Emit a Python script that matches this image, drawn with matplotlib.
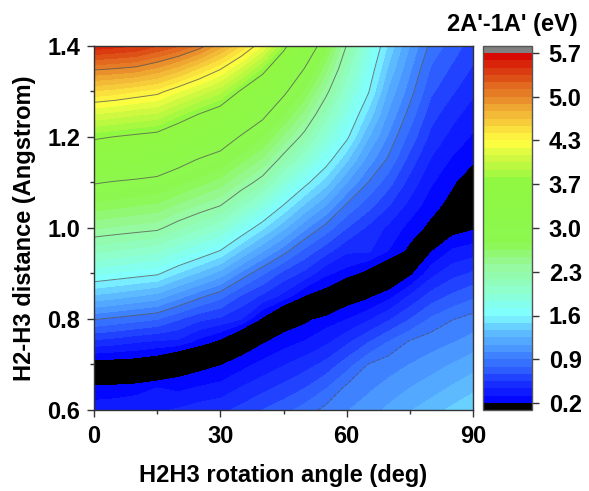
import numpy as np
import matplotlib
matplotlib.use("Agg")
import matplotlib.pyplot as plt
from matplotlib.colors import LinearSegmentedColormap, ListedColormap, BoundaryNorm
from matplotlib.cm import ScalarMappable
from matplotlib.ticker import MultipleLocator, FormatStrFormatter

plt.rcParams["font.family"] = ["Liberation Sans", "DejaVu Sans"]
plt.rcParams["font.weight"] = "bold"

# grid: rotation angle (deg) x H2-H3 distance (Angstrom)
angle = [0, 5, 10, 15, 20, 25, 30, 35, 40, 45, 50, 55, 60, 65, 70, 75, 80, 85, 90]
distance = [1.40, 1.35, 1.30, 1.25, 1.20, 1.15, 1.10, 1.05, 1.00,
            0.95, 0.90, 0.85, 0.80, 0.75, 0.70, 0.65, 0.60]

# 2A'-1A' gap in eV, one row per distance (top row = 1.40)
# sign < 0 marks the side below the black crossing seam
gap = [
    [5.55, 5.51, 5.47, 5.36, 5.25, 5.08, 4.83, 4.54, 4.20, 3.72, 3.25, 2.76, 2.25, 1.81, 1.43, 1.11, 0.85, 0.72, 0.60],
    [5.04, 5.01, 4.97, 4.87, 4.73, 4.54, 4.34, 4.06, 3.73, 3.36, 2.94, 2.54, 2.09, 1.70, 1.32, 1.02, 0.76, 0.64, 0.53],
    [4.54, 4.50, 4.44, 4.38, 4.22, 4.06, 3.90, 3.60, 3.36, 3.01, 2.69, 2.32, 1.93, 1.60, 1.20, 0.94, 0.68, 0.56, 0.45],
    [4.09, 4.05, 4.00, 3.96, 3.79, 3.63, 3.49, 3.25, 3.02, 2.73, 2.45, 2.10, 1.77, 1.43, 1.09, 0.84, 0.59, 0.47, 0.37],
    [3.68, 3.63, 3.59, 3.55, 3.41, 3.28, 3.14, 2.92, 2.74, 2.47, 2.20, 1.88, 1.61, 1.25, 0.98, 0.73, 0.51, 0.39, 0.30],
    [3.32, 3.28, 3.24, 3.20, 3.06, 2.93, 2.83, 2.64, 2.47, 2.19, 1.92, 1.66, 1.37, 1.07, 0.86, 0.61, 0.42, 0.30, 0.22],
    [2.97, 2.93, 2.90, 2.86, 2.76, 2.65, 2.55, 2.37, 2.18, 1.88, 1.63, 1.40, 1.12, 0.89, 0.70, 0.50, 0.33, 0.22, 0.10],
    [2.68, 2.65, 2.61, 2.58, 2.47, 2.37, 2.27, 2.05, 1.83, 1.57, 1.33, 1.12, 0.87, 0.71, 0.55, 0.39, 0.25, 0.15, -0.04],
    [2.39, 2.36, 2.33, 2.30, 2.17, 2.05, 1.93, 1.70, 1.48, 1.26, 1.03, 0.84, 0.66, 0.52, 0.40, 0.27, 0.16, -0.14, -0.19],
    [2.07, 2.03, 1.99, 1.95, 1.82, 1.70, 1.57, 1.34, 1.13, 0.94, 0.74, 0.59, 0.45, 0.45, 0.31, 0.16, -0.20, -0.34, -0.38],
    [1.72, 1.68, 1.64, 1.60, 1.45, 1.32, 1.18, 0.97, 0.79, 0.62, 0.51, 0.34, 0.26, 0.14, -0.01, -0.18, -0.40, -0.51, -0.57],
    [1.32, 1.28, 1.23, 1.18, 1.05, 0.92, 0.81, 0.64, 0.52, 0.39, 0.19, 0.11, -0.12, -0.18, -0.29, -0.46, -0.60, -0.69, -0.76],
    [0.90, 0.86, 0.82, 0.78, 0.67, 0.57, 0.52, 0.43, 0.17, -0.11, -0.17, -0.26, -0.32, -0.42, -0.54, -0.67, -0.80, -0.88, -0.93],
    [0.51, 0.48, 0.44, 0.41, 0.40, 0.27, 0.16, -0.09, -0.19, -0.27, -0.33, -0.41, -0.53, -0.66, -0.79, -0.90, -0.95, -1.00, -1.06],
    [0.12, 0.11, 0.10, 0.05, -0.10, -0.15, -0.20, -0.28, -0.36, -0.43, -0.50, -0.59, -0.73, -0.89, -0.95, -1.01, -1.07, -1.13, -1.19],
    [-0.24, -0.25, -0.27, -0.32, -0.29, -0.33, -0.36, -0.44, -0.51, -0.58, -0.66, -0.77, -0.91, -0.98, -1.05, -1.12, -1.18, -1.25, -1.32],
    [-0.38, -0.39, -0.41, -0.42, -0.45, -0.49, -0.52, -0.59, -0.67, -0.74, -0.83, -0.92, -1.00, -1.07, -1.15, -1.23, -1.30, -1.38, -1.45],
]

cbar_labels = ["0.2", "0.9", "1.6", "2.3", "3.0", "3.7", "4.3", "5.0", "5.7"]

# palette of the map (eV -> colour)
nodes = [0.2, 0.45, 0.7, 0.9, 1.25, 1.6, 2.0, 2.4, 2.7, 3.7, 4.0, 4.3, 4.65, 5.0, 5.35, 5.7]
node_colors = ["#0000ff", "#1426ff", "#2c5aff", "#3c7dff", "#5ab4ff", "#80ffff",
               "#90ffc8", "#96f896", "#8cf850", "#90f840", "#c8f840", "#ffff40",
               "#f5c83a", "#e88a2a", "#dc4a14", "#d80000"]
vmin, vmax = 0.2, 5.7
base = LinearSegmentedColormap.from_list(
    "gap", list(zip((np.array(nodes) - vmin) / (vmax - vmin), node_colors)))

levels = np.linspace(vmin, vmax, 49)
mids = (levels[:-1] + levels[1:]) / 2
band_colors = [base((m - vmin) / (vmax - vmin)) for m in mids]

all_levels = np.concatenate([-levels[::-1], levels])
all_colors = band_colors[::-1] + ["black"] + band_colors
cmap_all = ListedColormap(all_colors)
norm_all = BoundaryNorm(all_levels, len(all_colors))

tick_vals = np.linspace(vmin, vmax, 9)
line_levels = np.concatenate([-tick_vals[1:8][::-1], tick_vals[1:8]])

Z = np.flipud(np.array(gap))
Y = np.flipud(np.array(distance))
X = np.array(angle)

fig = plt.figure(figsize=(5.89, 4.91), dpi=100)
ax = fig.add_axes([94 / 589, 81 / 491, 379 / 589, 364 / 491])

ax.contourf(X, Y, Z, levels=all_levels, cmap=cmap_all, norm=norm_all)
ax.contour(X, Y, Z, levels=line_levels, colors="#555555", linewidths=0.7, alpha=0.75)

ax.set_xlim(0, 90)
ax.set_ylim(0.6, 1.4)
ax.set_xticks([0, 30, 60, 90])
ax.set_yticks([0.6, 0.8, 1.0, 1.2, 1.4])
ax.xaxis.set_minor_locator(MultipleLocator(15))
ax.yaxis.set_minor_locator(MultipleLocator(0.1))
ax.yaxis.set_major_formatter(FormatStrFormatter("%.1f"))
ax.tick_params(which="major", direction="out", length=5, width=1, labelsize=17, color="#333333")
ax.tick_params(axis="x", which="major", pad=6)
ax.tick_params(axis="y", which="major", pad=5)
ax.tick_params(which="minor", direction="out", length=3, width=1, color="#333333")
for s in ax.spines.values():
    s.set_linewidth(1)
    s.set_color("#333333")

ax.set_xlabel("H2H3 rotation angle (deg)", fontsize=17, fontweight="bold", labelpad=11)
ax.set_ylabel("H2-H3 distance (Angstrom)", fontsize=17, fontweight="bold", labelpad=8)

# colour bar with black (< 0.2) and grey (> 5.7) caps
cb_cmap = ListedColormap(band_colors)
cb_cmap.set_under("black")
cb_cmap.set_over("#808080")
sm = ScalarMappable(norm=BoundaryNorm(levels, len(band_colors)), cmap=cb_cmap)
cax = fig.add_axes([483 / 589, 81 / 491, 49 / 589, 364 / 491])
cb = fig.colorbar(sm, cax=cax, extend="both", extendrect=True, extendfrac=0.02,
                  ticks=tick_vals)
cb.ax.set_yticklabels(cbar_labels)
cb.ax.tick_params(direction="out", length=5, width=1, labelsize=17, pad=7, color="#333333")
cb.ax.minorticks_off()
cb.outline.set_linewidth(1)
cb.outline.set_edgecolor("#555555")

fig.text(578 / 589, 1 - 24 / 491, "2A'-1A' (eV)", fontsize=17, fontweight="bold",
         ha="right", va="center")

fig.savefig("out.png", dpi=100)
